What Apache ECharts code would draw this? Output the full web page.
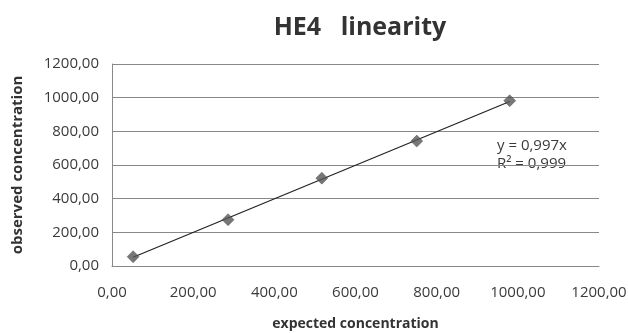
<!DOCTYPE html>
<html><head><meta charset="utf-8">
<script src="https://cdn.jsdelivr.net/npm/echarts@6/dist/echarts.min.js"></script>
<style>html,body{margin:0;padding:0;background:#fff}#c{width:628px;height:333px}</style>
</head><body><div id="c"></div>
<script>
const expected = [52, 286, 517, 751, 980];
const observed = [55, 275, 522, 742, 982];
const slope = 0.997;
const axisTicks = [0, 200, 400, 600, 800, 1000, 1200];
const titleText = 'HE4   linearity';
const xName = 'expected concentration';
const yName = 'observed concentration';
const eqText = 'y = 0,997x';
const r2Text = 'R² = 0,999';

const fmt = v => v.toFixed(2).replace('.', ',');
const FONT = '"Open Sans", sans-serif';
const chart = echarts.init(document.getElementById('c'));
const pts = expected.map((x, i) => [x, observed[i]]);
const trend = [[expected[0], slope * expected[0]], [expected[expected.length - 1], slope * expected[expected.length - 1]]];
chart.setOption({
  animation: false,
  backgroundColor: '#fff',
  title: { text: titleText, left: 355, top: 10, textAlign: 'center',
    textStyle: { fontFamily: FONT, fontSize: 25, fontWeight: 'bold', color: '#333' } },
  grid: { left: 112, right: 29, top: 64, bottom: 67, containLabel: false, outerBoundsMode: 'none' },
  xAxis: {
    type: 'value', min: axisTicks[0], max: axisTicks[axisTicks.length - 1], interval: 200,
    name: xName, nameLocation: 'middle', nameGap: 51,
    nameTextStyle: { fontFamily: FONT, fontSize: 14, fontWeight: 'bold', color: '#333' },
    axisLine: { show: true, lineStyle: { color: '#888', width: 1 } },
    axisTick: { show: false },
    splitLine: { show: false },
    axisLabel: { formatter: fmt, margin: 19, fontFamily: FONT, fontSize: 15, color: '#3a3a3a' }
  },
  yAxis: {
    type: 'value', min: axisTicks[0], max: axisTicks[axisTicks.length - 1], interval: 200,
    name: yName, nameLocation: 'middle', nameGap: 87,
    nameTextStyle: { fontFamily: FONT, fontSize: 15, fontWeight: 'bold', color: '#333' },
    axisLine: { show: true, lineStyle: { color: '#888', width: 1 } },
    axisTick: { show: false },
    splitLine: { show: true, lineStyle: { color: '#888', width: 1 } },
    axisLabel: { formatter: fmt, margin: 13, fontFamily: FONT, fontSize: 15, color: '#3a3a3a' }
  },
  series: [
    { type: 'line', data: trend, symbol: 'none', lineStyle: { color: '#222', width: 1.2 }, z: 2 },
    { type: 'scatter', data: pts, symbol: 'diamond', symbolSize: 12,
      itemStyle: { color: '#555', borderColor: '#444', borderWidth: 0.5 }, z: 3 }
  ],
  graphic: [
    { type: 'text', left: 497, top: 138, style: { text: eqText, fontFamily: FONT, fontSize: 15, fill: '#3a3a3a' } },
    { type: 'text', left: 497, top: 156, style: { text: r2Text, fontFamily: FONT, fontSize: 15, fill: '#3a3a3a' } }
  ]
});
</script></body></html>
